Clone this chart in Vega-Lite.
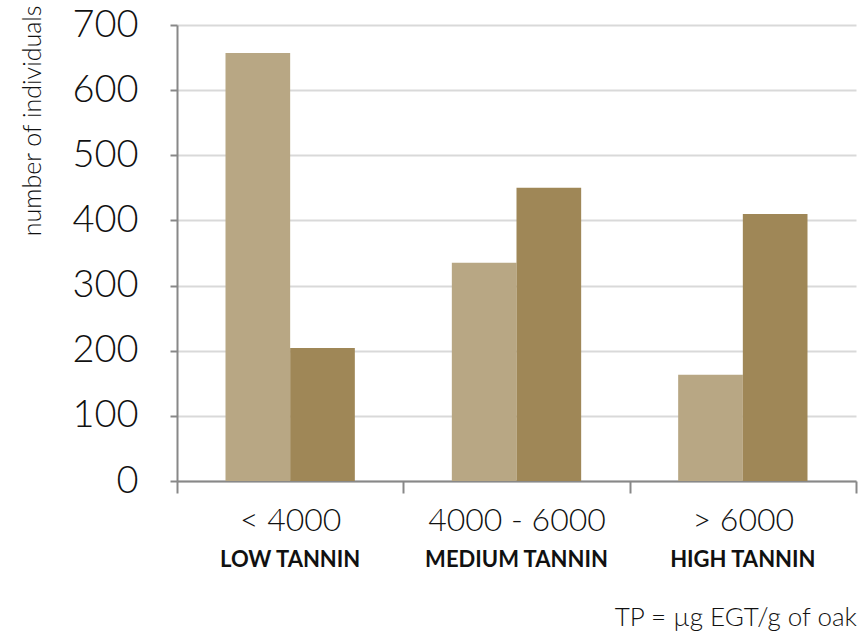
{
  "$schema": "https://vega.github.io/schema/vega-lite/v6.json",
  "width": 679,
  "height": 456,
  "autosize": {"type": "none"},
  "padding": {"left": 177, "top": 25, "right": 6, "bottom": 154},
  "background": "white",
  "config": {
    "view": {"stroke": null},
    "font": "Lato"
  },
  "title": {
    "text": "TP = µg EGT/g of oak",
    "orient": "bottom",
    "anchor": "end",
    "fontSize": 26,
    "fontWeight": 300,
    "font": "Lato",
    "color": "#111",
    "offset": 35
  },
  "data": {
    "values": [
      {"range": "< 4000", "series": "A", "count": 657},
      {"range": "< 4000", "series": "B", "count": 204},
      {"range": "4000 - 6000", "series": "A", "count": 335},
      {"range": "4000 - 6000", "series": "B", "count": 450},
      {"range": "> 6000", "series": "A", "count": 163},
      {"range": "> 6000", "series": "B", "count": 410}
    ]
  },
  "resolve": {"axis": {"x": "independent"}},
  "layer": [
    {
      "mark": {"type": "bar"},
      "encoding": {
        "x": {
          "field": "range",
          "type": "nominal",
          "sort": ["< 4000", "4000 - 6000", "> 6000"],
          "scale": {"paddingInner": 0, "paddingOuter": 0},
          "axis": {
            "title": null,
            "orient": "bottom",
            "labelAngle": 0,
            "labelFontSize": 32,
            "labelFontWeight": 300,
            "labelColor": "#111",
            "labelPadding": 12,
            "labelBaseline": "top",
            "labelLimit": 0,
            "tickBand": "extent",
            "tickSize": 12,
            "tickWidth": 2,
            "tickColor": "#888",
            "domainColor": "#888",
            "domainWidth": 2
          }
        },
        "xOffset": {"field": "series", "type": "nominal", "scale": {"paddingInner": 0, "paddingOuter": 0.75}},
        "y": {
          "field": "count",
          "type": "quantitative",
          "scale": {"domain": [0, 700]},
          "axis": {
            "title": "number of individuals",
            "titleFontSize": 25,
            "titleFontWeight": 300,
            "titleColor": "#111",
            "titleAngle": -90,
            "titleAlign": "right",
            "titleAnchor": null,
            "titleX": -145,
            "titleY": -20,
            "titleBaseline": "middle",
            "values": [0, 100, 200, 300, 400, 500, 600, 700],
            "labelFontSize": 38,
            "labelFontWeight": 300,
            "labelColor": "#111",
            "labelPadding": 32,
            "tickSize": 7,
            "tickWidth": 2,
            "tickColor": "#888",
            "domainColor": "#888",
            "domainWidth": 2,
            "gridColor": "#d9d9d9",
            "gridWidth": 2
          }
        },
        "color": {
          "field": "series",
          "type": "nominal",
          "scale": {"domain": ["A", "B"], "range": ["#b8a784", "#9f8757"]},
          "legend": null
        }
      }
    },
    {
      "mark": {"type": "bar", "opacity": 0},
      "encoding": {
        "x": {
          "field": "range",
          "type": "nominal",
          "sort": ["< 4000", "4000 - 6000", "> 6000"],
          "scale": {"paddingInner": 0, "paddingOuter": 0},
          "axis": {
            "title": null,
            "orient": "bottom",
            "labelAngle": 0,
            "labelExpr": "datum.value == '< 4000' ? 'LOW TANNIN' : datum.value == '4000 - 6000' ? 'MEDIUM TANNIN' : 'HIGH TANNIN'",
            "labelFontSize": 22,
            "labelFontWeight": "bold",
            "labelColor": "#111",
            "labelPadding": 68,
            "labelBaseline": "top",
            "labelLimit": 0,
            "ticks": false,
            "domain": false
          }
        },
        "y": {"field": "count", "type": "quantitative"}
      }
    }
  ]
}
